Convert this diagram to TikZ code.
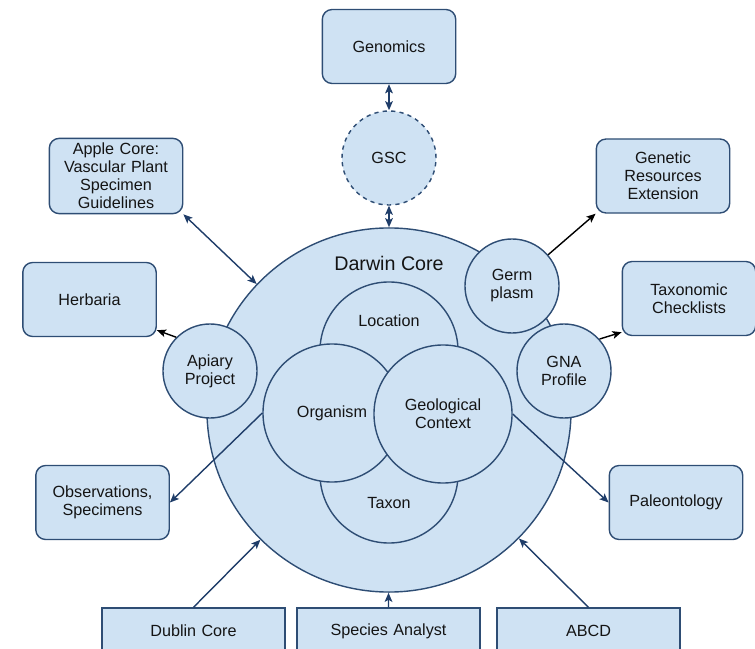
\documentclass[tikz,border=0pt]{standalone}
\usepackage{fontspec}
\setmainfont{Liberation Sans}
\usetikzlibrary{shapes,arrows.meta,positioning,calc}
\definecolor{dcfill}{HTML}{CFE2F3}
\definecolor{dcline}{HTML}{2E4D74}
\definecolor{dcarrow}{HTML}{1F3D69}
\definecolor{dctext}{HTML}{141414}
\tikzset{
    %Define standard arrow tip
    >={Stealth[length=6.5pt,width=5.5pt,inset=1.5pt]},
    %Define style for boxes
    block/.style={
           rectangle,
           rounded corners=7pt,
           draw=dcline,
           fill=dcfill,
           line width=1pt,
           text=dctext,
           text width=3.1cm,
           minimum width=3.325cm,
           minimum height=1.85cm,
           align=center,
           font=\fontsize{11.5}{12.8}\selectfont},
    % Define style for the boxes at the bottom
    flatblock/.style={
           block,
           sharp corners,
           text width=4.3cm,
           minimum width=4.575cm,
           minimum height=1.15cm},
    % Define styles for circles
    bigdisc/.style={
           circle,
           draw=dcline,
           fill=dcfill,
           line width=1pt,
           inner sep=0pt,
           minimum size=9.1cm},
    disc/.style={
           bigdisc,
           text=dctext,
           align=center,
           font=\fontsize{11.5}{12.8}\selectfont,
           minimum size=3.45cm},
    smalldisc/.style={
           disc,
           minimum size=2.35cm},
    label/.style={
           text=dctext,
           font=\fontsize{11.5}{12.8}\selectfont},
    % Define arrow style
    arrow/.style={
           ->,
           draw=dcarrow,
           line width=1pt},
    blackarrow/.style={
           draw=black}
}
\begin{document}
\begin{tikzpicture}[x=0.025cm, y=-0.025cm]
    \useasboundingbox (0,0) rectangle (755,649);
    \clip (0,0) rectangle (755,649);

    % Darwin Core and its classes
    \node [bigdisc] (DwC) at (389,410) {};
    \node [label, font=\fontsize{14}{16}\selectfont] (DwCname) at (389,263) {Darwin Core};
    \node [disc] (Loc) at (389,351) {};
    \node [disc] (Tax) at (389,474) {};
    \node [label] (LocText) at (389,321) {Location};
    \node [label] (TaxText) at (389,503) {Taxon};
    \node [disc] (Org) at (332,413) {Organism};
    \node [disc] (Geo) at (443,414) {Geological\\Context};

    % extensions
    \node [smalldisc] (Germ) at (512,286) {Germ\\plasm};
    \node [smalldisc] (GNA) at (564,371) {GNA\\Profile};
    \node [smalldisc] (Apiary) at (210,371) {Apiary\\Project};
    \node [smalldisc, dashed] (GSC) at (389,158) {GSC};

    % related standards
    \node [block] (Genomics) at (389,46.5) {Genomics};
    \node [block] (Apple) at (116,176) {Apple Core:\\Vascular Plant\\Specimen\\Guidelines};
    \node [block] (GRE) at (663,176) {Genetic\\Resources\\Extension};
    \node [block] (Herb) at (89.5,299.5) {Herbaria};
    \node [block] (TaxCheck) at (689,298.5) {Taxonomic\\Checklists};
    \node [block] (Obs) at (102.5,502.5) {Observations,\\Specimens};
    \node [block] (Paleo) at (676,502.5) {Paleontology};
    \node [flatblock] (Dublin) at (193.5,631) {Dublin Core};
    \node [flatblock] (SpAn) at (388.5,631) {Species Analyst};
    \node [flatblock] (ABCD) at (588.5,631) {ABCD};

    \path[<->] (Genomics) edge[arrow, <->] (GSC);
    \path[<->] (GSC) edge[arrow, <->] (DwC);
    \path[<->] (Apple.south east) edge[arrow, <->] (DwC);
    \path[->] (Apiary.135) edge[arrow, blackarrow] ($(Herb.south east)+(0,-7)$);
    \path[->] (Germ) edge[arrow, blackarrow] (GRE.south west);
    \path[->] (GNA.42) edge[arrow, blackarrow] ($(TaxCheck.south west)+(0,-4)$);
    \path[->] (Org.west) edge[arrow] (Obs.east);
    \path[->] (Geo.east) edge[arrow] (Paleo.west);
    \path[->] (Dublin.north) edge[arrow] (DwC);
    \path[->] (SpAn.north) edge[arrow] (DwC);
    \path[->] (ABCD.north) edge[arrow] (DwC);
\end{tikzpicture}
\end{document}
